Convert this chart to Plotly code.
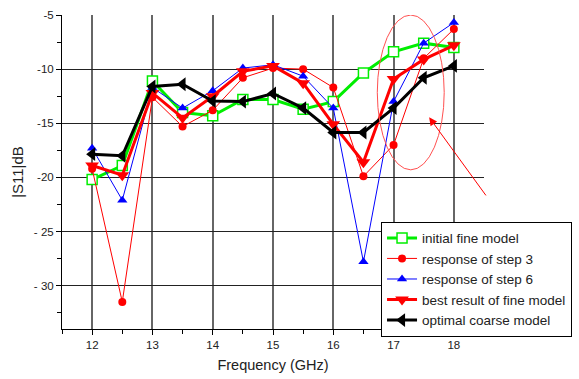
import plotly.graph_objects as go

freq = [12, 12.5, 13, 13.5, 14, 14.5, 15, 15.5, 16, 16.5, 17, 17.5, 18]
initial_fine = [-20.2, -18.9, -11.1, -14.0, -14.3, -12.8, -12.8, -13.7, -13.0, -10.35, -8.4, -7.6, -8.0]
step3 = [-19.2, -31.5, -12.6, -15.3, -13.8, -10.8, -9.9, -10.0, -11.7, -19.9, -17.0, -9.0, -6.3]
step6 = [-17.3, -22.1, -11.7, -13.6, -12.0, -9.9, -9.6, -10.65, -13.6, -27.8, -13.0, -7.6, -5.7]
best_fine = [-18.9, -19.8, -12.2, -14.5, -12.5, -10.2, -9.7, -11.3, -15.1, -18.6, -10.9, -9.1, -7.8]
coarse = [-17.85, -18.0, -11.6, -11.4, -12.95, -13.0, -12.25, -13.6, -15.85, -15.85, -13.6, -10.8, -9.7]

x_ticks = [12, 13, 14, 15, 16, 17, 18]
y_ticks = [-5, -10, -15, -20, -25, -30]
y_tick_text = ["-5", "-10", "-15", "-20", "- 25", "- 30"]

fig = go.Figure()
fig.add_trace(go.Scatter(x=freq, y=initial_fine, name="initial fine model", mode="lines+markers",
                         line=dict(color="#00ee00", width=3),
                         marker=dict(symbol="square", size=10, color="white",
                                     line=dict(color="#00ee00", width=1.5))))
fig.add_trace(go.Scatter(x=freq, y=step3, name="response of step 3", mode="lines+markers",
                         line=dict(color="#ff0000", width=1),
                         marker=dict(symbol="circle", size=8, color="#ff0000")))
fig.add_trace(go.Scatter(x=freq, y=step6, name="response of step 6", mode="lines+markers",
                         line=dict(color="#0000ff", width=1),
                         marker=dict(symbol="triangle-up", size=9, color="#0000ff")))
fig.add_trace(go.Scatter(x=freq, y=best_fine, name="best result of fine model", mode="lines+markers",
                         line=dict(color="#ff0000", width=3),
                         marker=dict(symbol="triangle-down", size=12, color="#ff0000")))
fig.add_trace(go.Scatter(x=freq, y=coarse, name="optimal coarse model", mode="lines+markers",
                         line=dict(color="#000000", width=3),
                         marker=dict(symbol="triangle-left", size=12, color="#000000")))

# red ellipse annotation
fig.add_shape(type="circle", xref="x", yref="y", x0=16.73, x1=17.84, y0=-19.3, y1=-5.0,
              line=dict(color="#ff5050", width=1), layer="above")
# red arrow
fig.add_annotation(x=17.59, y=-14.45, ax=18.55, ay=-21.8, xref="x", yref="y",
                   axref="x", ayref="y", text="", showarrow=True,
                   arrowhead=2, arrowsize=1.6, arrowwidth=1, arrowcolor="#ff0000")

fig.update_layout(
    width=579, height=379,
    margin=dict(l=62, r=95, t=15, b=50, autoexpand=False),
    paper_bgcolor="white", plot_bgcolor="white",
    font=dict(family="Liberation Sans, Arial, sans-serif", size=12, color="#222"),
    showlegend=True,
    legend=dict(x=0.756, y=0.342, xanchor="left", yanchor="top",
                bgcolor="white", bordercolor="black", borderwidth=1,
                font=dict(size=13.5, color="#222"), tracegroupgap=0,
                itemwidth=30),
    xaxis=dict(range=[11.5, 18.5], tickvals=x_ticks, ticktext=[str(v) for v in x_ticks],
               showgrid=True, gridcolor="#666", gridwidth=1.5,
               showline=True, linecolor="black", linewidth=1,
               ticks="outside", ticklen=5, tickcolor="black",
               minor=dict(tickvals=[11.5, 12.5, 13.5, 14.5, 15.5, 16.5, 17.5, 18.5],
                          ticks="outside", ticklen=4, tickcolor="black", showgrid=False),
               zeroline=False,
               title=dict(text="Frequency (GHz)", font=dict(size=14.5), standoff=10),
               tickfont=dict(size=11.5)),
    yaxis=dict(range=[-34, -5], tickvals=y_ticks, ticktext=y_tick_text,
               showgrid=True, gridcolor="#222", gridwidth=1,
               showline=True, linecolor="black", linewidth=1,
               ticks="outside", ticklen=5, tickcolor="black",
               minor=dict(tickvals=[-7.5, -12.5, -17.5, -22.5, -27.5, -32.5],
                          ticks="outside", ticklen=4, tickcolor="black", showgrid=False),
               zeroline=False,
               title=dict(text="|S11|dB", font=dict(size=15), standoff=6),
               tickfont=dict(size=11.5)),
)

fig.write_html("out.html")
